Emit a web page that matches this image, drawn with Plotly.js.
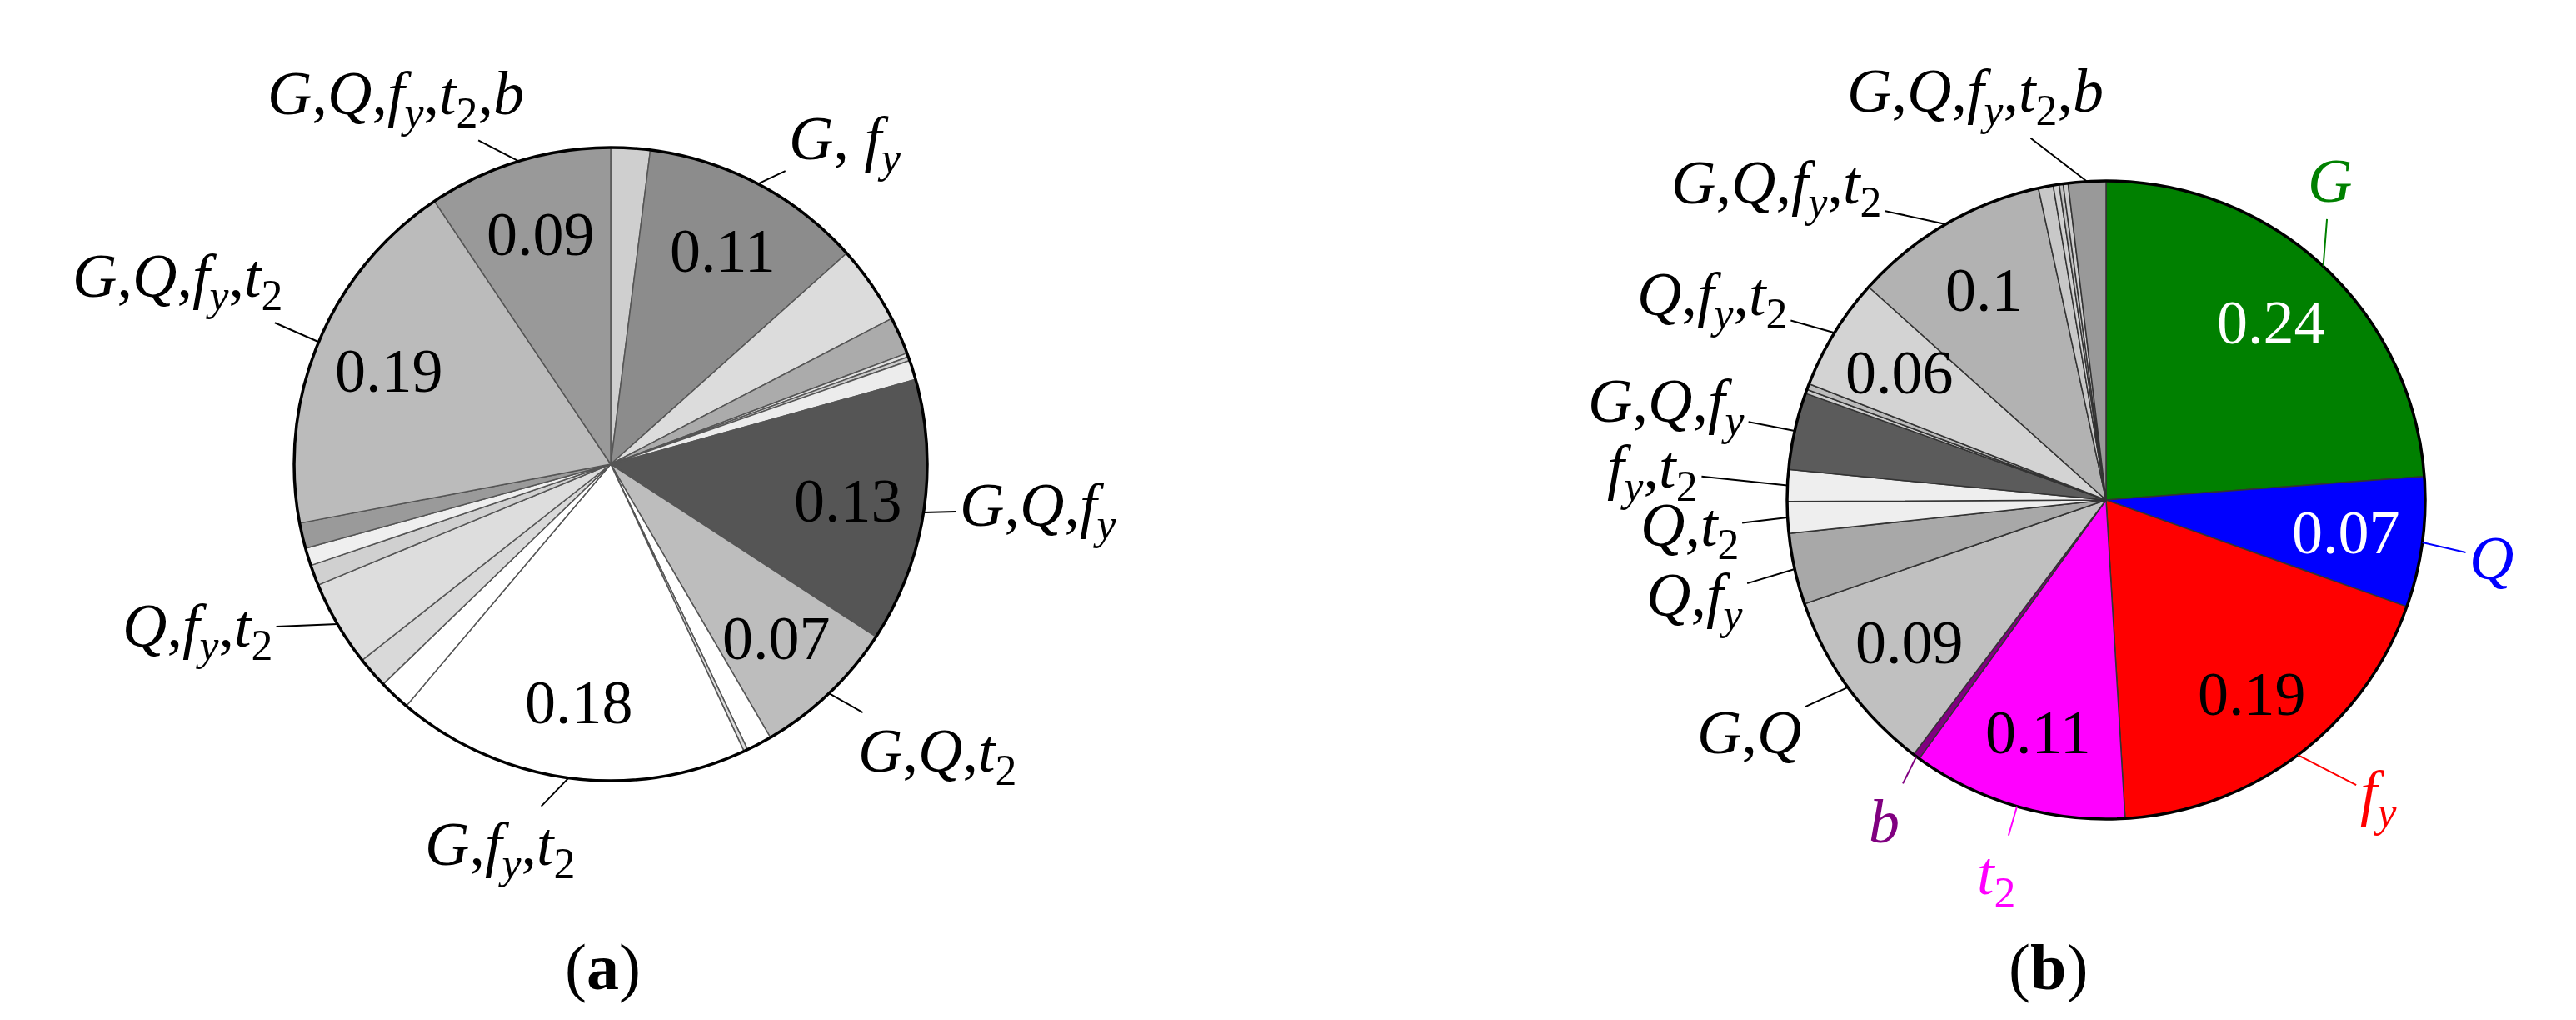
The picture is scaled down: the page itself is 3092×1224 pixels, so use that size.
<!DOCTYPE html>
<html>
<head>
<meta charset="utf-8">
<script src="https://cdn.plot.ly/plotly-3.0.1.min.js"></script>
<style>
  html, body { margin: 0; padding: 0; background: #fff; }
  #chart { width: 3092px; height: 1224px; }
</style>
</head>
<body>
<div id="chart"></div>
<script>
// Two sensitivity pies: (a) grey groups, (b) single variables in colour

const W = 3092, H = 1224;
const SERIF = 'Liberation Serif, DejaVu Serif, serif';
const VALUE_R = 0.76;   // value labels sit at this fraction of the radius

// (a) slices, clockwise from 12 o'clock
const aValues = [0.020, 0.114, 0.040, 0.019, 0.002, 0.002, 0.010, 0.135, 0.074, 0.013,
                 0.002, 0.181, 0.016, 0.016, 0.044, 0.0105, 0.009, 0.013, 0.186, 0.094];
const aText = ['', '0.11', '', '', '', '', '', '0.13', '0.07', '',
               '', '0.18', '', '', '', '', '', '', '0.19', '0.09'];
const aNames = ['', 'G, f_y', '', '', '', '', '', 'G,Q,f_y', 'G,Q,t_2', '',
                '', 'G,f_y,t_2', '', '', 'Q,f_y,t_2', '', '', '', 'G,Q,f_y,t_2', 'G,Q,f_y,t_2,b'];

// (b) slices, clockwise from 12 o'clock
const bValues = [0.238, 0.066, 0.186, 0.109, 0.0035, 0.094, 0.036, 0.016, 0.016, 0.039,
                 0.002, 0.003, 0.057, 0.0995, 0.0075, 0.003, 0.002, 0.0025, 0.019];
const bText = ['0.24', '0.07', '0.19', '0.11', '', '0.09', '', '', '', '',
               '', '', '0.06', '0.1', '', '', '', '', ''];
const bNames = ['G', 'Q', 'f_y', 't_2', 'b', 'G,Q', 'Q,f_y', 'Q,t_2', 'f_y,t_2', 'G,Q,f_y',
                '', '', 'Q,f_y,t_2', 'G,Q,f_y,t_2', '', '', '', '', 'G,Q,f_y,t_2,b'];

// styling
const aColors = ['#cfcfcf', '#8c8c8c', '#dcdcdc', '#ababab', '#e0e0e0', '#cccccc', '#ececec', '#555555', '#bdbdbd', '#ffffff',
                 '#dddddd', '#ffffff', '#ffffff', '#d9d9d9', '#dddddd', '#d0d0d0', '#efefef', '#9a9a9a', '#bbbbbb', '#999999'];
const bColors = ['#008000', '#0000ff', '#ff0000', '#ff00ff', '#800080', '#c0c0c0', '#a8a8a8', '#eeeeee', '#eeeeee', '#5b5b5b',
                 '#cccccc', '#bbbbbb', '#d3d3d3', '#b2b2b2', '#c8c8c8', '#d0d0d0', '#c0c0c0', '#cccccc', '#999999'];
const aValueColors = aValues.map(() => '#000000');
const bValueColors = bValues.map((_, i) => i < 2 ? '#ffffff' : '#000000');
const bLabelColors = {'G': '#008000', 'Q': '#0000ff', 'f_y': '#ff0000', 't_2': '#ff00ff', 'b': '#800080'};

// label placement: pixel offset from slice edge to label centre
const aOffsets = {
  'G, f_y': [105, -49], 'G,Q,f_y': [137, -3], 'G,Q,t_2': [130, 74], 'G,f_y,t_2': [-82, 85],
  'Q,f_y,t_2': [-168, 7], 'G,Q,f_y,t_2': [-169, -74], 'G,Q,f_y,t_2,b': [-147, -76]
};
const bOffsets = {
  'G': [8, -102], 'Q': [83, 19], 'f_y': [97, 50], 't_2': [-25, 86], 'b': [-39, 78],
  'G,Q': [-118, 54], 'Q,f_y': [-120, 36], 'Q,t_2': [-118, 14], 'f_y,t_2': [-162, -17],
  'G,Q,f_y': [-154, -30], 'Q,f_y,t_2': [-147, -41], 'G,Q,f_y,t_2': [-203, -44], 'G,Q,f_y,t_2,b': [-134, -103]
};

const aDomain = {x: [0.11417, 0.35996], y: [0.23448, 0.85539]};
const bDomain = {x: [0.69373, 0.94146], y: [0.19690, 0.82271]};

function mathLabel(name) {
  return name.split(',').map(part => {
    const m = part.match(/^(\s*)([A-Za-z])(?:_(\w))?$/);
    if (!m) return part;
    let s = m[1] + '<i>' + m[2] + '</i>';
    if (m[3]) s += '<sub>' + (/\d/.test(m[3]) ? m[3] : '<i>' + m[3] + '</i>') + '</sub>';
    return s;
  }).join(',');
}

function pieGeom(domain) {
  const w = W * (domain.x[1] - domain.x[0]);
  const h = H * (domain.y[1] - domain.y[0]);
  return {
    cx: W * (domain.x[0] + domain.x[1]) / 2,
    cy: H * (1 - (domain.y[0] + domain.y[1]) / 2),
    r: Math.min(w, h) / 2
  };
}

// mid angle of every slice, radians clockwise from 12 o'clock
function midAngles(values) {
  const total = values.reduce((s, v) => s + v, 0);
  let cum = 0;
  return values.map(v => {
    const a = (cum + v / 2) / total * 2 * Math.PI;
    cum += v;
    return a;
  });
}

function pieTrace(id, values, colors, domain, lineColor) {
  return {
    type: 'pie',
    labels: values.map((_, i) => id + i),
    values: values,
    textinfo: 'none',
    sort: false,
    direction: 'clockwise',
    rotation: 0,
    domain: domain,
    marker: {colors: colors, line: {color: lineColor, width: 1.5}},
    hoverinfo: 'skip',
    showlegend: false
  };
}

function outlineTrace(domain) {
  return {
    type: 'pie',
    labels: ['all'],
    values: [1],
    textinfo: 'none',
    sort: false,
    domain: domain,
    marker: {colors: ['rgba(0,0,0,0)'], line: {color: '#000000', width: 3.5}},
    hoverinfo: 'skip',
    showlegend: false
  };
}

function valueLabels(values, text, colors, domain) {
  const g = pieGeom(domain);
  const mids = midAngles(values);
  const out = [];
  values.forEach((v, i) => {
    if (!text[i]) return;
    const px = g.cx + VALUE_R * g.r * Math.sin(mids[i]);
    const py = g.cy - VALUE_R * g.r * Math.cos(mids[i]);
    out.push({
      xref: 'paper', yref: 'paper', x: px / W, y: 1 - py / H,
      xanchor: 'center', yanchor: 'middle', showarrow: false,
      text: text[i],
      font: {family: SERIF, size: 74, color: colors[i]}
    });
  });
  return out;
}

function sliceLabels(values, names, offsets, colorOf, domain) {
  const g = pieGeom(domain);
  const mids = midAngles(values);
  const out = [];
  values.forEach((v, i) => {
    const name = names[i];
    if (!name) return;
    const px = g.cx + g.r * Math.sin(mids[i]);
    const py = g.cy - g.r * Math.cos(mids[i]);
    const off = offsets[name];
    const col = colorOf(name);
    out.push({
      xref: 'paper', yref: 'paper',
      x: px / W, y: 1 - py / H,
      ax: off[0], ay: off[1],
      text: mathLabel(name),
      showarrow: true, arrowhead: 0, arrowwidth: 2, arrowcolor: col,
      borderpad: 4,
      font: {family: SERIF, size: 74, color: col}
    });
  });
  return out;
}

function caption(text, xPx) {
  return {
    xref: 'paper', yref: 'paper', x: xPx / W, y: 1 - 1160 / H,
    xanchor: 'center', yanchor: 'middle', showarrow: false,
    text: text,
    font: {family: SERIF, size: 78, color: '#000000'}
  };
}

const traces = [
  pieTrace('a', aValues, aColors, aDomain, '#555555'),
  outlineTrace(aDomain),
  pieTrace('b', bValues, bColors, bDomain, '#333333'),
  outlineTrace(bDomain)
];

const annotations = [
  ...valueLabels(aValues, aText, aValueColors, aDomain),
  ...valueLabels(bValues, bText, bValueColors, bDomain),
  ...sliceLabels(aValues, aNames, aOffsets, () => '#000000', aDomain),
  ...sliceLabels(bValues, bNames, bOffsets, n => bLabelColors[n] || '#000000', bDomain),
  caption('(<b>a</b>)', 723),
  caption('(<b>b</b>)', 2458)
];

Plotly.newPlot('chart', traces, {
  width: W,
  height: H,
  margin: {l: 0, r: 0, t: 0, b: 0},
  paper_bgcolor: '#ffffff',
  showlegend: false,
  annotations: annotations
}, {displayModeBar: false, staticPlot: true});
</script>
</body>
</html>
